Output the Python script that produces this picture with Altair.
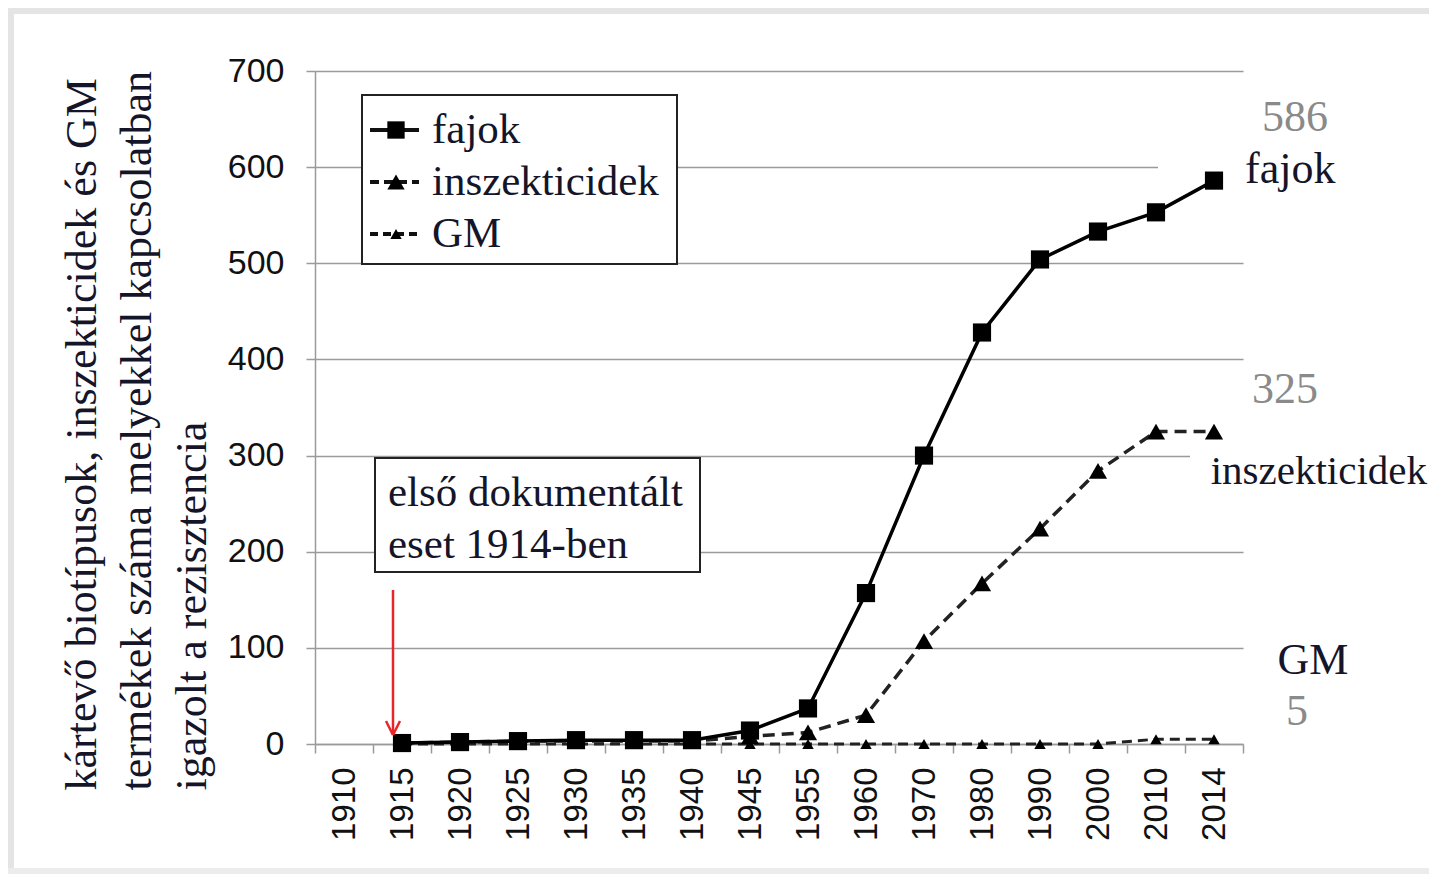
import altair as alt
import pandas as pd

years = ["1910", "1915", "1920", "1925", "1930", "1935", "1940", "1945",
         "1955", "1960", "1970", "1980", "1990", "2000", "2010", "2014"]
fajok = [None, 1, 2, 3, 4, 4, 4, 14, 37, 157, 300, 428, 504, 533, 553, 586]
inszekticidek = [None, 1, 2, 3, 3, 3, 3, 8, 12, 30, 107, 167, 224, 284, 325, 325]
gm = [None, 0, 0, 0, 0, 0, 0, 0, 0, 0, 0, 0, 0, 0, 5, 5]
y_ticks = [0, 100, 200, 300, 400, 500, 600, 700]

title_lines = ["kártevő biotípusok, inszekticidek és GM",
               "termékek száma melyekkel kapcsolatban",
               "igazolt a rezisztencia"]
legend_labels = ["fajok", "inszekticidek", "GM"]
note_lines = ["első dokumentált", "eset 1914-ben"]

rows = []
for name, vals in [("fajok", fajok), ("inszekticidek", inszekticidek), ("GM", gm)]:
    for yr, v in zip(years, vals):
        if v is not None:
            rows.append({"ev": yr, "ertek": v, "sor": name})
df = pd.DataFrame(rows)

SERIF = "Liberation Serif"
SANS = "Liberation Sans"
W, H = 928, 673

xenc = alt.X("ev:N", sort=years, bandPosition=0.5,
             scale=alt.Scale(type="band", domain=years, paddingInner=0, paddingOuter=0),
             axis=alt.Axis(title=None, labelAngle=270, labelFont=SANS, labelFontSize=33,
                           labelColor="#111", labelAlign="right", labelBaseline="middle",
                           labelPadding=14, tickSize=9, tickColor="#9a9a9a", tickWidth=1.5,
                           domainColor="#9a9a9a", domainWidth=1.5, tickBand="extent",
                           grid=False))
yenc = alt.Y("ertek:Q", scale=alt.Scale(domain=[0, 700], nice=False),
             axis=alt.Axis(title=title_lines, values=y_ticks, labelFont=SANS, labelFontSize=34,
                           labelColor="#111", labelPadding=22, tickSize=9,
                           tickColor="#9a9a9a", tickWidth=1.5, domainColor="#9a9a9a",
                           domainWidth=1.5, grid=True, gridColor="#9a9a9a", gridWidth=1.5,
                           titleFont=SERIF, titleFontSize=44, titleFontWeight="normal",
                           titleColor="#15152a", titleAngle=270, titleAlign="left",
                           titleBaseline="top", titleX=-255, titleY=719,
                           titleLineHeight=55))

base = alt.Chart(df)
one = pd.DataFrame({"k": [0]})


def sel(name):
    return alt.datum.sor == name


# white boxes that interrupt grid lines behind the end labels
cut1 = alt.Chart(one).mark_rect(color="white").encode(
    x=alt.value(843), x2=alt.value(W + 2), y=alt.value(25), y2=alt.value(125))
cut2 = alt.Chart(one).mark_rect(color="white").encode(
    x=alt.value(875), x2=alt.value(W + 2), y=alt.value(375), y2=alt.value(395))

line_f = base.transform_filter(sel("fajok")).mark_line(
    color="black", strokeWidth=3.5).encode(x=xenc, y=yenc)
line_i = base.transform_filter(sel("inszekticidek")).mark_line(
    color="#222", strokeWidth=3.5, strokeDash=[12, 7]).encode(x=xenc, y=yenc)
line_g = base.transform_filter(sel("GM")).mark_line(
    color="#222", strokeWidth=3, strokeDash=[10, 6]).encode(x=xenc, y=yenc)
pt_f = base.transform_filter(sel("fajok")).mark_point(
    shape="square", filled=True, color="black", size=330, opacity=1).encode(x=xenc, y=yenc)
pt_i = base.transform_filter(sel("inszekticidek")).mark_point(
    shape="triangle-up", filled=True, color="black", size=330, opacity=1).encode(x=xenc, y=yenc)
pt_g = base.transform_filter(sel("GM")).mark_point(
    shape="triangle-up", filled=True, color="black", size=130, opacity=1).encode(x=xenc, y=yenc)

layers = [cut1, cut2, line_g, line_i, line_f, pt_g, pt_i, pt_f]

# legend box
layers.append(alt.Chart(one).mark_rect(fill="white", stroke="#222", strokeWidth=2).encode(
    x=alt.value(47), x2=alt.value(362), y=alt.value(24), y2=alt.value(193)))
leg_y = [59, 111, 163]
leg_dash = [None, [9, 5], [8, 5]]
leg_shape = ["square", "triangle-up", "triangle-up"]
leg_size = [300, 300, 130]
for lab, ly, dash, shp, sz in zip(legend_labels, leg_y, leg_dash, leg_shape, leg_size):
    kw = {"color": "#111", "strokeWidth": 4}
    if dash:
        kw["strokeDash"] = dash
    layers.append(alt.Chart(one).mark_rule(**kw).encode(
        x=alt.value(55), x2=alt.value(104), y=alt.value(ly)))
    layers.append(alt.Chart(one).mark_point(shape=shp, filled=True, color="black",
                                            size=sz, opacity=1).encode(
        x=alt.value(81), y=alt.value(ly)))
    layers.append(alt.Chart(one).mark_text(text=lab, font=SERIF, fontSize=43, color="#15152a",
                                           align="left", baseline="middle").encode(
        x=alt.value(117), y=alt.value(ly)))

# note box
layers.append(alt.Chart(one).mark_rect(fill="white", stroke="#222", strokeWidth=2).encode(
    x=alt.value(60), x2=alt.value(385), y=alt.value(387), y2=alt.value(501)))
for ln, ny in zip(note_lines, [422, 474]):
    layers.append(alt.Chart(one).mark_text(text=ln, font=SERIF, fontSize=43, color="#15152a",
                                           align="left", baseline="middle").encode(
        x=alt.value(73), y=alt.value(ny)))

# red arrow
red = "#e8262a"
layers.append(alt.Chart(one).mark_rule(color=red, strokeWidth=2.5).encode(
    x=alt.value(78), y=alt.value(519), y2=alt.value(664)))
layers.append(alt.Chart(one).mark_rule(color=red, strokeWidth=2.5).encode(
    x=alt.value(71), x2=alt.value(78), y=alt.value(650), y2=alt.value(664)))
layers.append(alt.Chart(one).mark_rule(color=red, strokeWidth=2.5).encode(
    x=alt.value(85), x2=alt.value(78), y=alt.value(650), y2=alt.value(664)))

# end labels
end_labels = [("586", 980, 47, "#8a8a8a", "center", 44),
              ("fajok", 930, 99, "#15152a", "left", 44),
              ("325", 970, 319, "#8a8a8a", "center", 44),
              ("inszekticidek", 1112, 401, "#15152a", "right", 41),
              ("GM", 998, 590, "#15152a", "center", 44),
              ("5", 982, 641, "#8a8a8a", "center", 44)]
for txt, tx, ty, col, al, fs in end_labels:
    layers.append(alt.Chart(one).mark_text(text=txt, font=SERIF, fontSize=fs, color=col,
                                           align=al, baseline="middle").encode(
        x=alt.value(tx), y=alt.value(ty)))

# picture frame strips
layers.append(alt.Chart(one).mark_rect(color="#e4e4e4").encode(
    x=alt.value(-307), x2=alt.value(W + 186), y=alt.value(-63), y2=alt.value(-57)))
layers.append(alt.Chart(one).mark_rect(color="#e4e4e4").encode(
    x=alt.value(-307), x2=alt.value(-301), y=alt.value(-63), y2=alt.value(H + 130)))
layers.append(alt.Chart(one).mark_rect(color="#ececec").encode(
    x=alt.value(-307), x2=alt.value(W + 186), y=alt.value(H + 124), y2=alt.value(H + 130)))

chart = alt.layer(*layers).properties(
    width=W, height=H,
    autosize=alt.AutoSizeParams(type="none"),
    padding={"left": 307, "top": 63, "right": 186, "bottom": 130},
    background="white",
).configure_view(stroke=None)

chart.save("out.html", embed_options={"renderer": "svg", "actions": False})
